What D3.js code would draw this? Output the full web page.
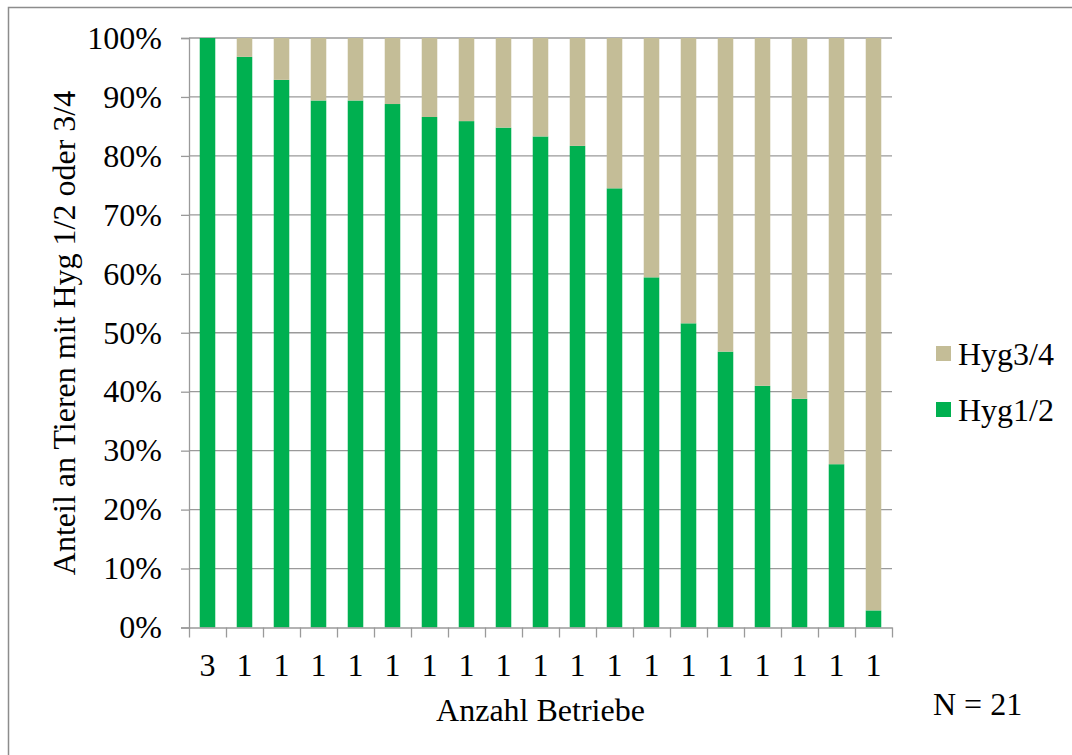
<!DOCTYPE html>
<html>
<head>
<meta charset="utf-8">
<script src="https://cdn.jsdelivr.net/npm/d3@7"></script>
<style>
  html, body { margin: 0; padding: 0; background: #fff; }
  svg { display: block; }
  text { font-family: "Liberation Serif", "Times New Roman", serif; fill: #000; }
</style>
</head>
<body>
<svg id="chart" width="1072" height="755"></svg>
<script>
// ---- data ----
const categories = ["3","1","1","1","1","1","1","1","1","1","1","1","1","1","1","1","1","1","1"];
const hyg12 = [100, 96.8, 92.9, 89.4, 89.4, 88.8, 86.6, 85.9, 84.8, 83.3, 81.7, 74.5, 59.4, 51.6, 46.8, 41.0, 38.8, 27.7, 2.9];
const hyg34 = [0, 3.2, 7.1, 10.6, 10.6, 11.2, 13.4, 14.1, 15.2, 16.7, 18.3, 25.5, 40.6, 48.4, 53.2, 59.0, 61.2, 72.3, 97.1];
const yTicks = [0, 10, 20, 30, 40, 50, 60, 70, 80, 90, 100];
const seriesNames = ["Hyg1/2", "Hyg3/4"];
const colors = { "Hyg1/2": "#00B050", "Hyg3/4": "#C4BD97" };

const table = categories.map((c, i) => ({ idx: i, cat: c, "Hyg1/2": hyg12[i], "Hyg3/4": hyg34[i] }));

(function () {
const svg = d3.select("#chart");
const FONT = 32;

// outer frame
svg.append("rect").attr("x", 8.5).attr("y", 7.5).attr("width", 1100).attr("height", 800)
  .attr("fill", "none").attr("stroke", "#8c8c8c").attr("stroke-width", 1.5);

const pLeft = 189, pRight = 892, pTop = 38, pBottom = 627.5;

const x = d3.scaleBand().domain(d3.range(categories.length)).range([pLeft, pRight])
  .paddingInner(0.58).paddingOuter(0.29);
const xEdge = d3.scaleLinear().domain([0, categories.length]).range([pLeft, pRight]);
const y = d3.scaleLinear().domain([0, 100]).range([pBottom, pTop]);

// gridlines
svg.append("g").selectAll("line").data(yTicks.filter(t => t > 0)).join("line")
  .attr("x1", pLeft).attr("x2", pRight)
  .attr("y1", d => y(d)).attr("y2", d => y(d))
  .attr("stroke", "#9a9a9a").attr("stroke-width", 1.3);

// bars
const stack = d3.stack().keys(seriesNames)(table);
svg.append("g").selectAll("g").data(stack).join("g")
  .attr("fill", d => colors[d.key])
  .selectAll("rect").data(d => d).join("rect")
  .attr("x", d => x(d.data.idx))
  .attr("width", x.bandwidth())
  .attr("y", d => y(d[1]))
  .attr("height", d => y(d[0]) - y(d[1]));

// y axis
const yAxis = svg.append("g").attr("transform", `translate(${pLeft},0)`)
  .call(d3.axisLeft(y).tickValues(yTicks).tickFormat(d => d + "%").tickSize(8).tickPadding(19));
yAxis.selectAll("path.domain").attr("stroke", "#9a9a9a").attr("stroke-width", 1.3);
yAxis.selectAll("line").attr("stroke", "#9a9a9a").attr("stroke-width", 1.3);
yAxis.selectAll("text").attr("font-size", FONT).attr("font-family", '"Liberation Serif", serif').attr("fill", "#000");

// x axis edge ticks
const xAxisEdges = svg.append("g").attr("transform", `translate(0,${pBottom})`)
  .call(d3.axisBottom(xEdge).tickValues(d3.range(categories.length + 1)).tickFormat("").tickSize(10).tickSizeOuter(0));
xAxisEdges.selectAll("path.domain").attr("stroke", "#9a9a9a").attr("stroke-width", 1.3);
xAxisEdges.selectAll("line").attr("stroke", "#9a9a9a").attr("stroke-width", 1.3);

// x labels
const xAxisLabels = svg.append("g").attr("transform", `translate(0,${pBottom})`)
  .call(d3.axisBottom(x).tickFormat(i => categories[i]).tickSize(0).tickPadding(26));
xAxisLabels.select("path.domain").remove();
xAxisLabels.selectAll("text").attr("font-size", FONT).attr("font-family", '"Liberation Serif", serif').attr("fill", "#000");

// axis titles
svg.append("text").attr("x", (pLeft + pRight) / 2).attr("y", 721)
  .attr("text-anchor", "middle").attr("font-size", FONT).text("Anzahl Betriebe");
svg.append("text").attr("transform", `translate(75,333) rotate(-90)`)
  .attr("text-anchor", "middle").attr("font-size", FONT).text("Anteil an Tieren mit Hyg 1/2 oder 3/4");

// legend
const legendItems = ["Hyg3/4", "Hyg1/2"];
const lg = svg.append("g").selectAll("g").data(legendItems).join("g")
  .attr("transform", (d, i) => `translate(936,${346 + i * 56})`);
lg.append("rect").attr("width", 15).attr("height", 15).attr("fill", d => colors[d]);
lg.append("text").attr("x", 22).attr("y", 19).attr("font-size", FONT).text(d => d);

// N label
svg.append("text").attr("x", 933).attr("y", 715).attr("font-size", FONT).text("N = 21");
})();
</script>
</body>
</html>
